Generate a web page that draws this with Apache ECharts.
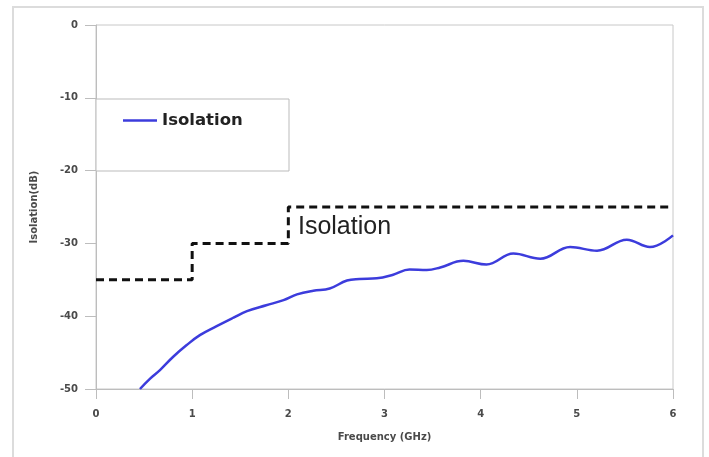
<!DOCTYPE html>
<html>
<head>
<meta charset="utf-8">
<script src="https://cdn.jsdelivr.net/npm/echarts@6/dist/echarts.min.js"></script>
<style>
html,body{margin:0;padding:0;background:#fff;}
#chart{width:709px;height:457px;}
</style>
</head>
<body>
<div id="chart"></div>
<script>
// Measured isolation curve (frequency GHz, isolation dB)
var freq = [0.457,0.56,0.665,0.8,0.94,1.08,1.25,1.43,1.57,1.77,1.95,2.09,2.26,2.43,2.61,2.74,2.92,3.09,3.26,3.44,3.58,3.82,4.06,4.34,4.62,4.93,5.21,5.52,5.76,6.0];
var isolation = [-50,-48.6,-47.4,-45.6,-44.0,-42.6,-41.4,-40.2,-39.3,-38.5,-37.8,-37.0,-36.5,-36.2,-35.1,-34.9,-34.8,-34.3,-33.6,-33.65,-33.3,-32.4,-32.9,-31.4,-32.1,-30.5,-31.0,-29.5,-30.5,-28.9];
// Specification limit (step line)
var limitFreq = [0,1,1,2,2,6];
var limitDb = [-35,-35,-30,-30,-25,-25];
var xTicks = [0,1,2,3,4,5,6];
var yTicks = [0,-10,-20,-30,-40,-50];

var curve = freq.map(function(f,i){return [f,isolation[i]];});
var limit = limitFreq.map(function(f,i){return [f,limitDb[i]];});

var chart = echarts.init(document.getElementById('chart'));
var labelStyle = {fontFamily:'DejaVu Sans',fontSize:10,fontWeight:'bold',color:'#4a4a4a'};
chart.setOption({
  animation:false,
  backgroundColor:'#fff',
  graphic:[
    {type:'rect',shape:{x:13,y:7,width:690,height:470},style:{fill:'none',stroke:'#dcdcdc',lineWidth:2},silent:true},
    {type:'rect',shape:{x:96,y:99,width:193,height:72},style:{fill:'#fff',stroke:'#bbb',lineWidth:1},z:5,silent:true}
  ],
  grid:{left:96,right:36,top:25,bottom:68,show:true,borderColor:'#c8c8c8',borderWidth:1},
  legend:{
    data:['Isolation'],left:123,top:112,padding:0,
    icon:'rect',itemWidth:34,itemHeight:2.5,itemGap:8,
    textStyle:{fontFamily:'DejaVu Sans',fontSize:16.5,fontWeight:'bold',color:'#222'},
    z:6
  },
  xAxis:{
    type:'value',min:xTicks[0],max:xTicks[xTicks.length-1],interval:1,
    name:'Frequency (GHz)',nameLocation:'middle',nameGap:43,
    nameTextStyle:{fontFamily:'DejaVu Sans',fontSize:10,fontWeight:'bold',color:'#4a4a4a'},
    axisLine:{onZero:false,lineStyle:{color:'#bdbdbd',width:1}},
    axisTick:{show:true,length:10,lineStyle:{color:'#bdbdbd'}},
    axisLabel:Object.assign({margin:20},labelStyle),
    splitLine:{show:false}
  },
  yAxis:{
    type:'value',min:yTicks[yTicks.length-1],max:yTicks[0],interval:10,
    name:'Isolation(dB)',nameLocation:'middle',nameGap:57,
    nameTextStyle:{fontFamily:'DejaVu Sans',fontSize:10,fontWeight:'bold',color:'#4a4a4a'},
    axisLine:{show:true,onZero:false,lineStyle:{color:'#bdbdbd',width:1}},
    axisTick:{show:true,length:11,lineStyle:{color:'#bdbdbd'}},
    axisLabel:Object.assign({margin:18},labelStyle),
    splitLine:{show:false}
  },
  series:[
    {
      name:'Limit',type:'line',data:limit,symbol:'none',z:3,
      lineStyle:{color:'#111',width:3,type:[8,5]},
      markPoint:{
        symbol:'circle',symbolSize:0,
        data:[{coord:[2.1,-27.7],value:'Isolation'}],
        label:{show:true,position:'right',distance:0,formatter:'Isolation',
          fontFamily:'Liberation Sans',fontSize:25,color:'#222'}
      }
    },
    {
      name:'Isolation',type:'line',data:curve,symbol:'none',smooth:0.4,z:4,
      itemStyle:{color:'#3c3cdc'},
      lineStyle:{color:'#3c3cdc',width:2.5}
    }
  ]
});
</script>
</body>
</html>
